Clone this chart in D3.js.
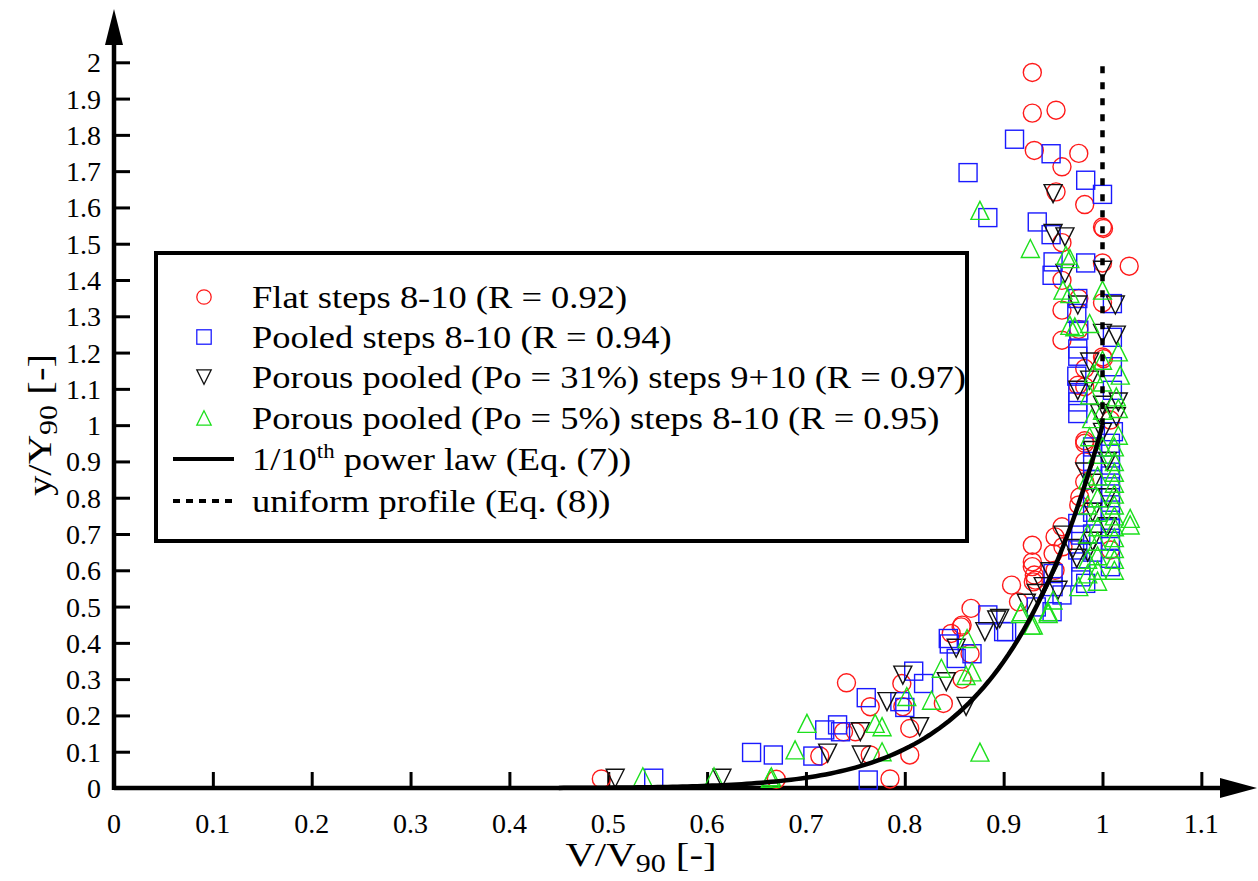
<!DOCTYPE html>
<html>
<head>
<meta charset="utf-8">
<script src="https://cdn.jsdelivr.net/npm/d3@7"></script>
<style>
  body { margin: 0; background: #fff; }
  text { font-family: "Liberation Serif", "Times New Roman", serif; }
</style>
</head>
<body>
<div id="chart-area"></div>
<script>
const W = 1258, H = 881

// x = V/V90, y = y/Y90
const flat = [
  [0.929,1.972],[0.929,1.860],[0.953,1.868],[0.931,1.757],[0.976,1.749],[0.959,1.712],[0.953,1.643],
  [0.982,1.608],[1.001,1.542],[1.0,1.546],[0.959,1.503],[1.027,1.438],[1.0,1.447],[0.959,1.399],
  [0.959,1.317],[1.0,1.337],[0.976,1.349],[0.959,1.234],[0.976,1.264],[1.0,1.188],[1.001,1.183],
  [0.982,1.156],[0.975,1.110],[0.982,1.106],[1.008,1.014],[0.982,0.957],[0.982,0.950],[0.982,0.899],
  [0.982,0.844],[0.977,0.802],[0.976,0.780],[0.959,0.720],[0.952,0.692],[0.960,0.665],[1.008,0.656],
  [0.929,0.669],[0.929,0.623],[0.929,0.610],[0.931,0.587],[0.908,0.559],[0.915,0.513],[0.930,0.568],
  [0.950,0.646],[0.952,0.600],[0.932,0.573],[0.867,0.495],[0.857,0.444],[0.847,0.426],[0.858,0.449],
  [0.741,0.290],[0.765,0.224],[0.797,0.288],[0.798,0.224],[0.805,0.164],[0.805,0.091],[0.839,0.233],
  [0.738,0.155],[0.750,0.155],[0.714,0.088],[0.765,0.091],[0.785,0.025],[0.670,0.024],[0.493,0.025],
  [0.866,0.370],[0.858,0.300]
]

const pooled = [
  [0.911,1.788],[0.864,1.696],[0.948,1.748],[0.983,1.675],[1.0,1.636],[0.884,1.572],[0.934,1.560],
  [0.948,1.525],[0.950,1.450],[0.983,1.447],[0.949,1.413],[0.975,1.349],[1.010,1.335],[0.974,1.308],
  [0.976,1.262],[1.010,1.242],[0.975,1.190],[1.010,1.161],[0.974,1.135],[0.975,1.064],[1.010,1.096],
  [0.975,1.032],[1.011,0.982],[0.975,1.090],[0.975,1.210],
  [1.008,0.950],[1.008,0.920],[1.008,0.890],[1.008,0.860],[1.008,0.830],[1.008,0.800],[1.008,0.766],
  [1.008,0.738],[1.008,0.715],[1.008,0.680],[1.008,0.633],[1.008,0.610],
  [0.990,0.940],[0.990,0.900],[0.990,0.850],[0.990,0.800],[0.990,0.760],[0.990,0.700],[0.990,0.650],
  [0.975,0.729],[0.978,0.697],[0.975,0.656],[0.978,0.623],[0.978,0.582],[0.983,0.564],
  [0.950,0.591],[0.950,0.555],[0.959,0.532],[0.949,0.486],[0.933,0.499],[0.903,0.431],[0.884,0.477],
  [0.900,0.431],[0.844,0.412],[0.645,0.098],[0.667,0.091],[0.707,0.088],[0.719,0.160],[0.732,0.174],
  [0.735,0.155],[0.761,0.249],[0.809,0.322],[0.819,0.288],[0.795,0.238],[0.800,0.222],[0.763,0.022],
  [0.845,0.397],[0.852,0.357],[0.546,0.027],[0.868,0.370]
]

const porous31 = [
  [0.950,1.638],[0.950,1.528],[0.962,1.519],[0.962,1.418],[1.0,1.427],[0.975,1.331],[1.013,1.331],
  [1.0,1.253],[1.014,1.248],[0.987,1.174],[0.975,1.096],[0.987,1.124],[1.0,1.055],[1.016,1.064],
  [0.997,1.032],[1.014,1.023],
  [0.982,0.871],[1.0,0.980],[0.990,0.930],[1.005,0.900],[0.990,0.840],[1.005,0.800],[0.990,0.760],
  [1.005,0.720],[0.990,0.680],[0.960,0.697],[0.974,0.633],[0.947,0.596],[0.940,0.555],[0.955,0.545],
  [0.923,0.509],[0.896,0.467],[0.893,0.463],[0.881,0.431],[0.933,0.536],[0.970,0.660],[0.985,0.650],
  [0.722,0.096],[0.755,0.155],[0.756,0.091],[0.782,0.238],[0.798,0.311],[0.815,0.169],[0.842,0.293],
  [0.852,0.385],[0.507,0.027],[0.615,0.027],[0.862,0.225]
]

const porous5 = [
  [0.876,1.592],[0.927,1.487],[0.967,1.459],[0.963,1.468],[0.967,1.363],[0.960,1.372],[1.0,1.372],
  [0.987,1.280],[0.972,1.271],[0.967,1.275],[1.016,1.202],[1.0,1.179],[0.991,1.142],[1.018,1.138],
  [1.0,1.119],[1.014,1.078],[0.987,1.083],[1.016,1.046],[1.0,1.041],[0.989,1.018],[1.016,0.972],
  [0.987,0.968],[1.0,0.940],
  [1.012,0.940],[1.012,0.900],[1.012,0.870],[1.012,0.840],[1.012,0.810],[1.012,0.780],[1.012,0.750],
  [1.012,0.720],[1.012,0.690],[1.012,0.660],[1.012,0.630],[1.012,0.600],
  [0.995,0.920],[0.995,0.860],[0.995,0.800],[0.995,0.760],[0.995,0.720],[0.995,0.680],[0.995,0.640],
  [0.995,0.600],[0.995,0.570],[0.985,0.850],[0.985,0.780],[0.985,0.700],[0.985,0.630],[0.985,0.590],
  [1.028,0.743],[1.028,0.725],[0.945,0.481],[0.928,0.449],[0.917,0.481],[0.976,0.555],[0.950,0.518],
  [0.918,0.486],[0.930,0.449],[0.863,0.412],[0.945,0.486],[0.701,0.178],[0.689,0.105],[0.664,0.027],
  [0.770,0.178],[0.777,0.169],[0.777,0.100],[0.802,0.252],[0.837,0.330],[0.827,0.242],[0.876,0.099],
  [0.535,0.031],[0.607,0.031],[0.665,0.031],[0.862,0.310],[0.868,0.320]
]

const xTicks = [0, 0.1, 0.2, 0.3, 0.4, 0.5, 0.6, 0.7, 0.8, 0.9, 1, 1.1]
const yTicks = [0, 0.1, 0.2, 0.3, 0.4, 0.5, 0.6, 0.7, 0.8, 0.9, 1, 1.1, 1.2, 1.3, 1.4, 1.5, 1.6, 1.7, 1.8, 1.9, 2]

const legendLabels = [
  "Flat steps 8-10 (R = 0.92)",
  "Pooled steps 8-10 (R = 0.94)",
  "Porous pooled (Po = 31%) steps 9+10 (R = 0.97)",
  "Porous pooled (Po = 5%) steps 8-10 (R = 0.95)"
]

// Eq. (7): V/V90 = (y/Y90)^(1/10), drawn for 0 <= y/Y90 <= 1
const powerV = d3.range(0.45, 1.0001, 0.005)
// Eq. (8): uniform profile V/V90 = 1
const uniformY = [1, 2]

const x = d3.scaleLinear().domain([0, 1]).range([114, 1102.5])
const y = d3.scaleLinear().domain([0, 2]).range([788, 62.3])

const svg = d3.select("#chart-area").append("svg")
  .attr("width", W)
  .attr("height", H)

// axes
const axisX = svg.append("g")
  .attr("transform", `translate(0, ${y(0)})`)
  .call(d3.axisBottom(x).tickValues(xTicks.slice(1)).tickSize(-16).tickFormat(""))
axisX.select(".domain").remove()
axisX.selectAll(".tick line").attr("stroke", "#000").attr("stroke-width", 3)

const axisY = svg.append("g")
  .attr("transform", `translate(${x(0)}, 0)`)
  .call(d3.axisLeft(y).tickValues(yTicks.slice(1)).tickSize(-16).tickFormat(""))
axisY.select(".domain").remove()
axisY.selectAll(".tick line").attr("stroke", "#000").attr("stroke-width", 3)

svg.append("line")
  .attr("x1", x(0)).attr("x2", 1225).attr("y1", y(0)).attr("y2", y(0))
  .attr("stroke", "#000").attr("stroke-width", 4.5)
svg.append("line")
  .attr("x1", x(0)).attr("x2", x(0)).attr("y1", y(0) + 2).attr("y2", 40)
  .attr("stroke", "#000").attr("stroke-width", 4.5)
svg.append("path")
  .attr("d", `M1257,${y(0)} L1220,${y(0) - 10} L1220,${y(0) + 10} Z`)
svg.append("path")
  .attr("d", `M${x(0)},9 L${x(0) - 9},45 L${x(0) + 9},45 Z`)

// tick labels
svg.append("g").selectAll("text")
  .data(xTicks).join("text")
  .attr("x", d => x(d))
  .attr("y", 833)
  .attr("text-anchor", "middle")
  .attr("font-size", "28px")
  .text(d => d)

svg.append("g").selectAll("text")
  .data(yTicks).join("text")
  .attr("x", 101)
  .attr("y", d => y(d) + 10)
  .attr("text-anchor", "end")
  .attr("font-size", "28px")
  .text(d => d)

// axis titles
const xt = svg.append("text")
  .attr("transform", "translate(641, 866) scale(1.2, 1)")
  .attr("text-anchor", "middle")
  .attr("font-size", "34px")
xt.append("tspan").text("V/V")
xt.append("tspan").attr("font-size", "25px").attr("dy", 6).text("90")
xt.append("tspan").attr("dy", -6).text(" [-]")

const yt = svg.append("text")
  .attr("transform", "translate(51, 425) rotate(-90) scale(1.2, 1)")
  .attr("text-anchor", "middle")
  .attr("font-size", "34px")
yt.append("tspan").text("y/Y")
yt.append("tspan").attr("font-size", "25px").attr("dy", 6).text("90")
yt.append("tspan").attr("dy", -6).text(" [-]")

// markers
const S = 9
const shapes = {
  circle: g => g.append("circle").attr("r", S),
  square: g => g.append("rect").attr("x", -S).attr("y", -S).attr("width", 2 * S).attr("height", 2 * S),
  down: g => g.append("path").attr("d", `M${-S},${-S} L${S},${-S} L0,${S} Z`),
  up: g => g.append("path").attr("d", `M0,${-S} L${S},${S} L${-S},${S} Z`)
}

const series = [
  { data: flat, shape: "circle", color: "#ff1a1a" },
  { data: pooled, shape: "square", color: "#1a1aff" },
  { data: porous31, shape: "down", color: "#111" },
  { data: porous5, shape: "up", color: "#1de01d" }
]

series.forEach(s => {
  svg.append("g").selectAll("g")
    .data(s.data).join("g")
    .attr("transform", d => `translate(${x(d[0])}, ${y(d[1])})`)
    .each(function () {
      shapes[s.shape](d3.select(this))
        .attr("fill", "none")
        .attr("stroke", s.color)
        .attr("stroke-width", 1.4)
    })
})

// lines
const line = d3.line().x(d => x(d[0])).y(d => y(d[1]))
svg.append("path")
  .datum(powerV.map(v => [Math.min(v, 1), Math.pow(Math.min(v, 1), 10)]))
  .attr("d", line)
  .attr("fill", "none")
  .attr("stroke", "#000")
  .attr("stroke-width", 4.5)

svg.append("path")
  .datum(uniformY.map(v => [1, v]))
  .attr("d", line)
  .attr("fill", "none")
  .attr("stroke", "#000")
  .attr("stroke-width", 4.5)
  .attr("stroke-dasharray", "7,9")

// legend
const lg = svg.append("g")
lg.append("rect")
  .attr("x", 156).attr("y", 253).attr("width", 811).attr("height", 288)
  .attr("fill", "#fff").attr("stroke", "#000").attr("stroke-width", 4)

const rowY = [297, 337, 377, 418, 459, 501]
series.forEach((s, i) => {
  const g = lg.append("g").attr("transform", `translate(204, ${rowY[i]})`)
  const m = g.append("g").attr("transform", "scale(0.8)")
  shapes[s.shape](m).attr("fill", "none").attr("stroke", s.color).attr("stroke-width", 1.6)
})
lg.append("line").attr("x1", 173).attr("x2", 234).attr("y1", rowY[4]).attr("y2", rowY[4])
  .attr("stroke", "#000").attr("stroke-width", 4)
lg.append("line").attr("x1", 173).attr("x2", 234).attr("y1", rowY[5]).attr("y2", rowY[5])
  .attr("stroke", "#000").attr("stroke-width", 4).attr("stroke-dasharray", "7,6")

const texts = [...legendLabels, null, "uniform profile (Eq. (8))"]
texts.forEach((t, i) => {
  const tx = lg.append("text")
    .attr("transform", `translate(252, ${rowY[i] + 11}) scale(1.14, 1)`)
    .attr("font-size", "32px")
  if (t) {
    tx.text(t)
  } else {
    tx.append("tspan").text("1/10")
    tx.append("tspan").attr("font-size", "20px").attr("dy", -12).text("th")
    tx.append("tspan").attr("dy", 12).text(" power law (Eq. (7))")
  }
})
</script>
</body>
</html>
